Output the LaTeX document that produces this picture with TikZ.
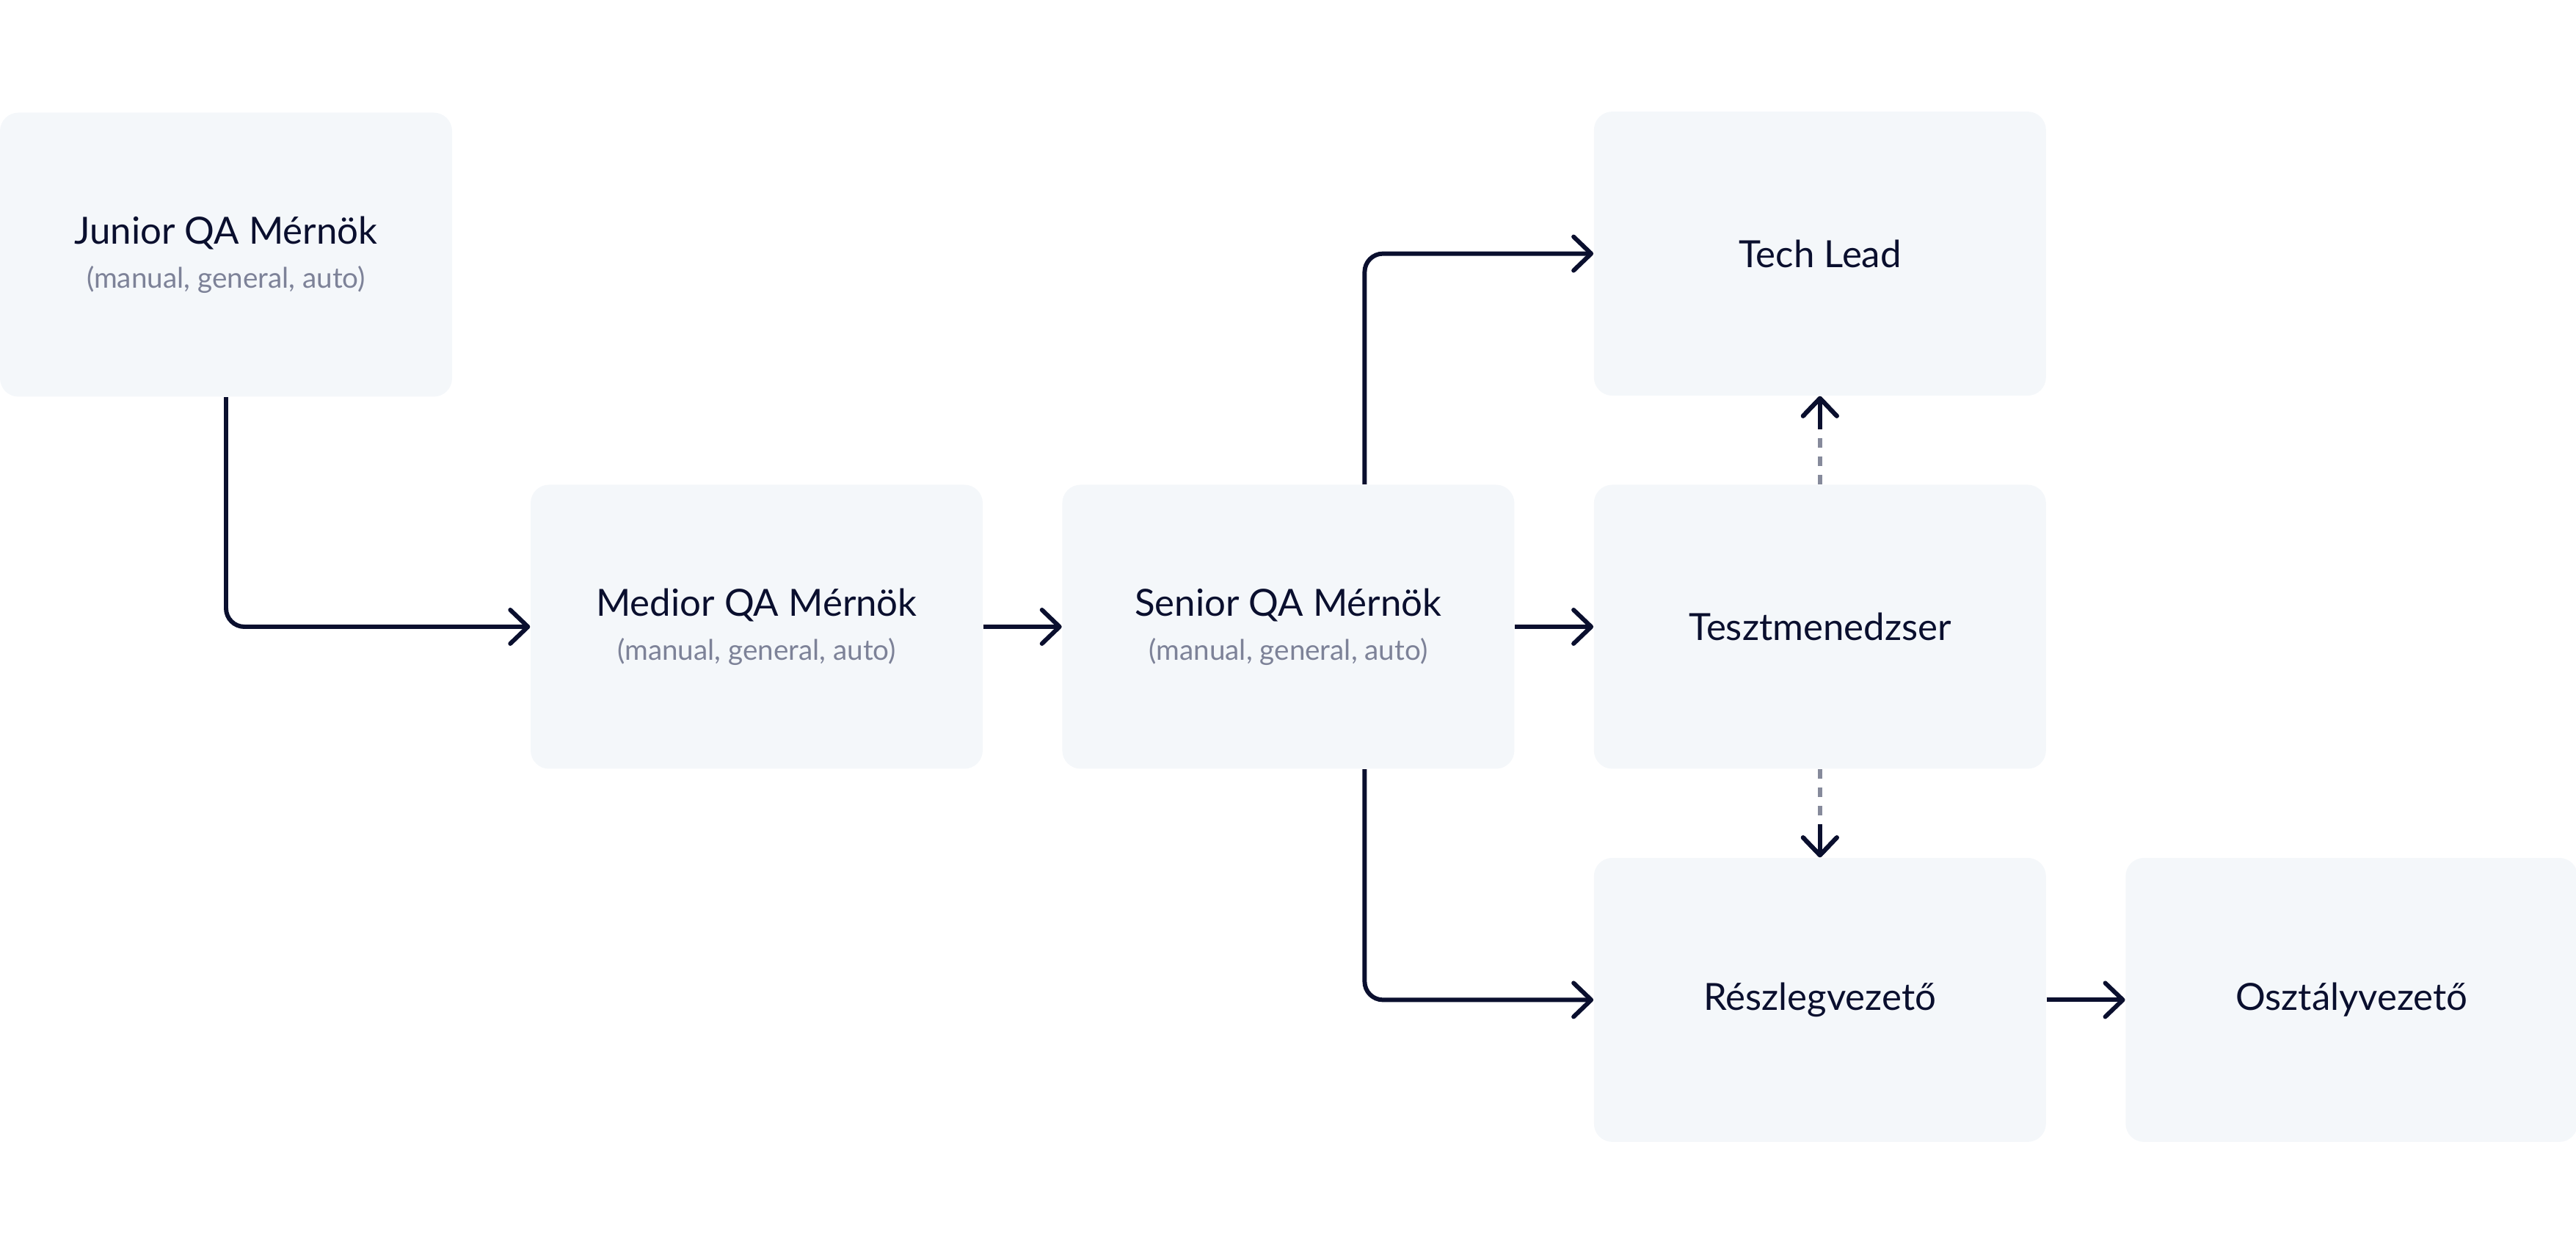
\documentclass[tikz,border=0pt]{standalone}
\usepackage{fontspec}
\setmainfont{Lato}
\usetikzlibrary{positioning,arrows.meta,decorations.markings}

\definecolor{qanavy}{HTML}{0A0F2E}
\definecolor{qagray}{HTML}{7D8298}
\definecolor{qafill}{HTML}{F4F7FA}
\definecolor{qadash}{HTML}{868A9B}

\newcommand{\subrole}[1]{{\fontsize{11}{13}\selectfont\color{qagray}#1}}

\begin{document}
\begin{tikzpicture}[
    role/.style={rectangle, fill=qafill, rounded corners=0.25cm, minimum width=6.16cm, minimum height=3.87cm, align=center, text=qanavy, font=\fontsize{14.5}{17}\selectfont},
    arrow/.style={-{Straight Barb[length=2.4mm, width=4.6mm, round]}, draw=qanavy, line width=1.7pt, rounded corners=0.25cm},
    darrow/.style={-{Straight Barb[length=2.4mm, width=4.6mm, round, color=qanavy]}, draw=qadash, line width=1.7pt, dash pattern=on 0.13cm off 0.12cm,
        postaction={decorate}, decoration={markings, mark=at position 1 with {\draw[qanavy, solid, line width=1.7pt] (-0.45,0) -- (0,0);}}}
]
    \useasboundingbox (0,0) rectangle (35.1,-17.1);

    % Engineer track
    \node[role] (junior) at (3.08,-3.47) {Junior QA Mérnök\\ \subrole{(manual, general, auto)}};
    \node[role] (medior) at (10.31,-8.54) {Medior QA Mérnök\\ \subrole{(manual, general, auto)}};
    \node[role, right=1.07cm of medior] (senior) {Senior QA Mérnök\\ \subrole{(manual, general, auto)}};

    % Lead / management track
    \node[role, right=1.07cm of senior] (test) {Tesztmenedzser};
    \node[role, above=1.2cm of test] (tech) {Tech Lead};
    \node[role, below=1.2cm of test] (dept) {Részlegvezető};
    \node[role, right=1.07cm of dept] (div) {Osztályvezető};

    % Arrows
    \draw[arrow] (junior.south) |- (medior.west);
    \draw[arrow] (medior) -- (senior);
    \draw[arrow] ([xshift=1.04cm]senior.north) |- (tech.west);
    \draw[arrow] (senior) -- (test);
    \draw[arrow] ([xshift=1.04cm]senior.south) |- (dept.west);
    \draw[arrow] (dept) -- (div);

    \draw[darrow] (test.north) -- (tech.south);
    \draw[darrow] (test.south) -- (dept.north);
\end{tikzpicture}
\end{document}
